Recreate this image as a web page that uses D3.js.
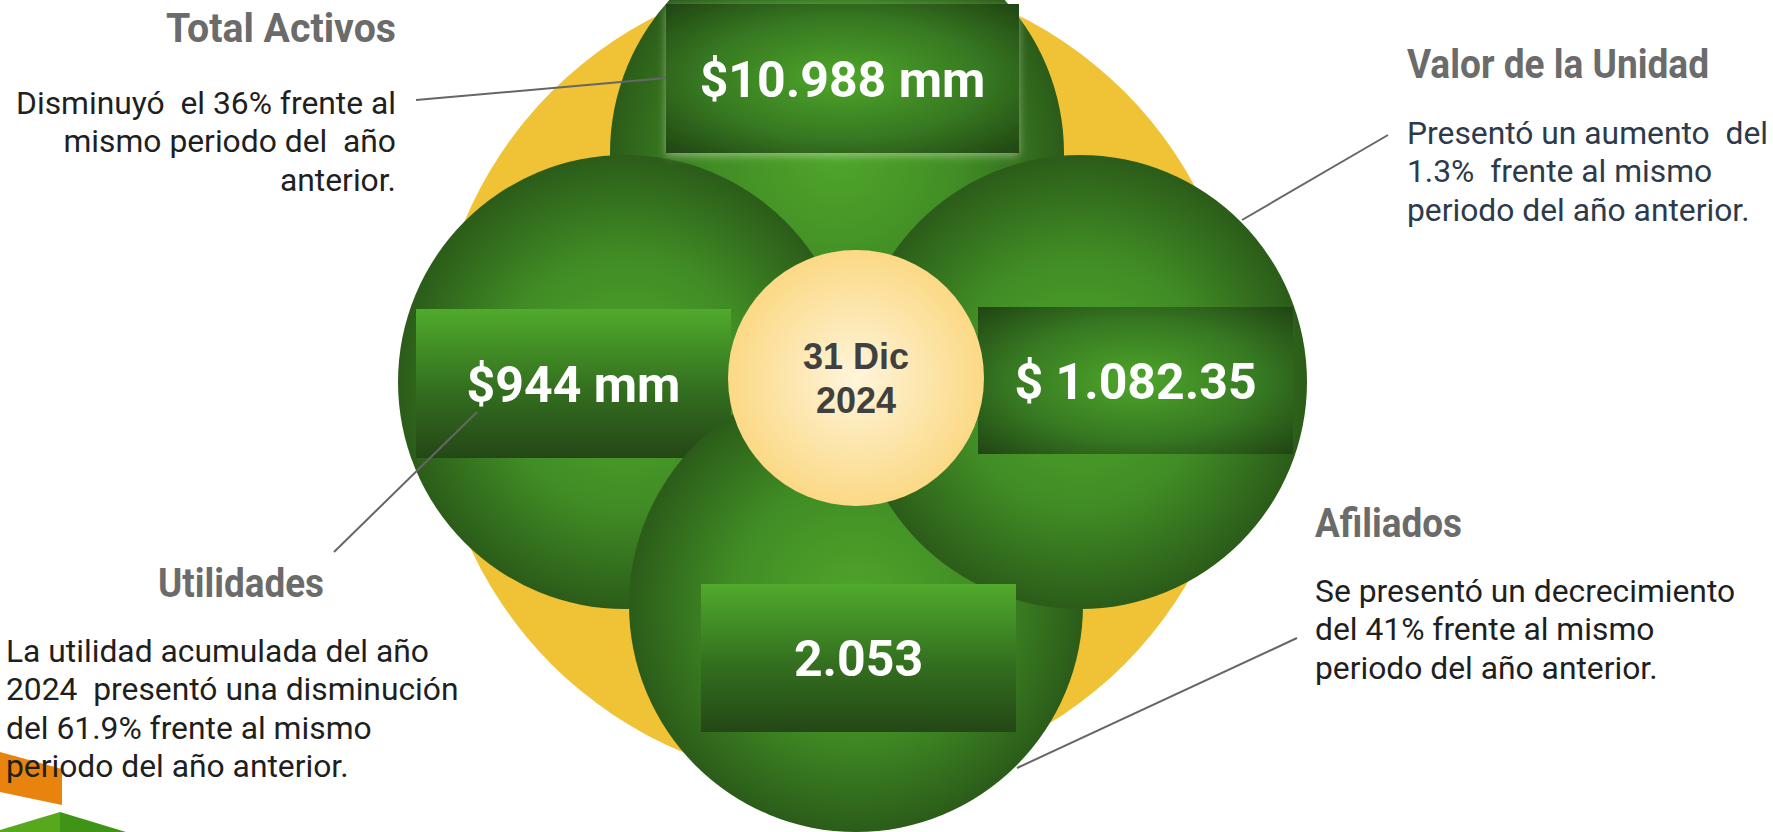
<!DOCTYPE html>
<html lang="es">
<head>
<meta charset="utf-8">
<title>Resumen al 31 Dic 2024</title>
<script src="https://cdn.jsdelivr.net/npm/d3@7"></script>
<style>
  html, body { margin: 0; padding: 0; background: #fff; }
  svg { display: block; }
  text { white-space: pre; }
</style>
</head>
<body>
<svg id="chart"></svg>
<script>
// indicators, in the order: top, right, left, bottom
var categories = ["Total Activos", "Valor de la Unidad", "Utilidades", "Afiliados"];
var values = ["$10.988 mm", "$ 1.082.35", "$944 mm", "2.053"];
var descriptions = [
  ["Disminuyó  el 36% frente al", "mismo periodo del  año", "anterior."],
  ["Presentó un aumento  del", "1.3%  frente al mismo", "periodo del año anterior."],
  ["La utilidad acumulada del año", "2024  presentó una disminución", "del 61.9% frente al mismo", "periodo del año anterior."],
  ["Se presentó un decrecimiento", "del 41% frente al mismo", "periodo del año anterior."]
];
var dateLabel = ["31 Dic", "2024"];

var width = 1773, height = 832;
var circleR = 227;

/* Layout scales (category -> position) */
var circleX = d3.scaleOrdinal().domain(categories).range([837, 1080, 625, 856]);
var circleY = d3.scaleOrdinal().domain(categories).range([153, 382, 382, 605]);
var boxX = d3.scaleOrdinal().domain(categories).range([666, 978, 416, 701]);
var boxY = d3.scaleOrdinal().domain(categories).range([4, 307, 309, 584]);
var boxW = d3.scaleOrdinal().domain(categories).range([353, 315, 315, 315]);
var boxH = d3.scaleOrdinal().domain(categories).range([149, 147, 149, 148]);
var boxFill = d3.scaleOrdinal().domain(categories)
  .range(["url(#boxRadial)", "url(#boxRadial)", "url(#boxLinear)", "url(#boxLinear)"]);
var titleX = d3.scaleOrdinal().domain(categories).range([396, 1407, 158, 1315]);
var titleY = d3.scaleOrdinal().domain(categories).range([42, 78, 597, 537]);
var titleW = d3.scaleOrdinal().domain(categories).range([230, 302, 166, 147]);
var descX = d3.scaleOrdinal().domain(categories).range([396, 1407, 6, 1315]);
var descY = d3.scaleOrdinal().domain(categories).range([114, 144, 662, 602]);
var anchor = d3.scaleOrdinal().domain(categories).range(["end", "start", "start", "start"]);
var descColor = d3.scaleOrdinal().domain(categories).range(["#1f1f1f", "#2d3a4c", "#1f1f1f", "#1f1f1f"]);
var leader = d3.scaleOrdinal().domain(categories).range([
  [[416, 100], [666, 78]],
  [[1242, 220], [1388, 135]],
  [[477, 412], [334, 552]],
  [[1017, 768], [1297, 638]]
]);
var lineHeight = 38.4;

var svg = d3.select("#chart")
  .attr("width", width)
  .attr("height", height)
  .attr("viewBox", [0, 0, width, height]);

/* Gradients */
var defs = svg.append("defs");

var g1 = defs.append("radialGradient").attr("id", "circleGrad")
  .attr("cx", "50%").attr("cy", "50%").attr("r", "50%");
g1.append("stop").attr("offset", "0%").attr("stop-color", "#4fa62b");
g1.append("stop").attr("offset", "55%").attr("stop-color", "#418d25");
g1.append("stop").attr("offset", "100%").attr("stop-color", "#2b5c19");

var g2 = defs.append("radialGradient").attr("id", "boxRadial")
  .attr("cx", "50%").attr("cy", "50%").attr("r", "72%");
g2.append("stop").attr("offset", "0%").attr("stop-color", "#4ea62a");
g2.append("stop").attr("offset", "55%").attr("stop-color", "#377922");
g2.append("stop").attr("offset", "100%").attr("stop-color", "#1f4212");

var g3 = defs.append("linearGradient").attr("id", "boxLinear")
  .attr("x1", 0).attr("y1", 0).attr("x2", 0).attr("y2", 1);
g3.append("stop").attr("offset", "0%").attr("stop-color", "#50aa2c");
g3.append("stop").attr("offset", "55%").attr("stop-color", "#336e1f");
g3.append("stop").attr("offset", "100%").attr("stop-color", "#244716");

var g4 = defs.append("radialGradient").attr("id", "creamGrad")
  .attr("cx", "50%").attr("cy", "50%").attr("r", "50%");
g4.append("stop").attr("offset", "0%").attr("stop-color", "#fff5db");
g4.append("stop").attr("offset", "100%").attr("stop-color", "#fbd985");

var glow = defs.append("filter").attr("id", "glow")
  .attr("x", "-5%").attr("y", "-5%").attr("width", "110%").attr("height", "115%");
glow.append("feDropShadow").attr("dx", 0).attr("dy", 3).attr("stdDeviation", 4)
  .attr("flood-color", "#e8f0d8").attr("flood-opacity", 0.45);

/* Decorative corner shapes */
svg.append("polygon").attr("points", "0,752 62,769 62,805 0,792").attr("fill", "#e8830d");
svg.append("polygon").attr("points", "0,830 60,812 60,832 0,832").attr("fill", "#56a81c");
svg.append("polygon").attr("points", "60,812 126,832 60,832").attr("fill", "#3f9417");

/* Yellow background disc */
svg.append("circle").attr("cx", 838).attr("cy", 378).attr("r", 405).attr("fill", "#f0c235");

/* Draw order: top circle, left circle + box, bottom circle, right circle, remaining boxes */
function drawCircle(cat) {
  svg.append("circle")
    .attr("cx", circleX(cat)).attr("cy", circleY(cat)).attr("r", circleR)
    .attr("fill", "url(#circleGrad)");
}
function drawBox(cat) {
  svg.append("rect")
    .attr("x", boxX(cat)).attr("y", boxY(cat))
    .attr("width", boxW(cat)).attr("height", boxH(cat))
    .attr("fill", boxFill(cat))
    .attr("filter", cat === categories[0] ? "url(#glow)" : null);
}
drawCircle(categories[0]);
drawCircle(categories[2]);
drawBox(categories[2]);
drawCircle(categories[3]);
drawCircle(categories[1]);
drawBox(categories[0]);
drawBox(categories[1]);
drawBox(categories[3]);

/* Centre date disc */
svg.append("circle").attr("cx", 856).attr("cy", 378).attr("r", 128).attr("fill", "url(#creamGrad)");
svg.append("g").selectAll("text")
  .data(dateLabel).enter()
  .append("text")
  .attr("x", 856)
  .attr("y", (d, i) => 369 + i * 44)
  .attr("text-anchor", "middle")
  .attr("font-family", "'Liberation Sans', Arial, sans-serif")
  .attr("font-weight", "bold")
  .attr("font-size", 36)
  .attr("fill", "#404040")
  .text(d => d);

/* Values */
svg.append("g").selectAll("text")
  .data(categories).enter()
  .append("text")
  .attr("x", d => boxX(d) + boxW(d) / 2)
  .attr("y", d => boxY(d) + boxH(d) / 2 + 18)
  .attr("text-anchor", "middle")
  .attr("font-family", "Roboto, sans-serif")
  .attr("font-weight", "bold")
  .attr("font-size", 50)
  .attr("fill", "#fff")
  .text((d, i) => values[i]);

/* Leader lines */
svg.append("g").selectAll("line")
  .data(categories).enter()
  .append("line")
  .attr("x1", d => leader(d)[0][0]).attr("y1", d => leader(d)[0][1])
  .attr("x2", d => leader(d)[1][0]).attr("y2", d => leader(d)[1][1])
  .attr("stroke", "#666")
  .attr("stroke-width", 2);

/* Titles (condensed look: taller glyphs squeezed to the measured width) */
svg.append("g").selectAll("text")
  .data(categories).enter()
  .append("text")
  .attr("x", d => titleX(d))
  .attr("y", d => titleY(d))
  .attr("text-anchor", d => anchor(d))
  .attr("font-family", "Roboto, sans-serif")
  .attr("font-weight", "bold")
  .attr("font-size", 41)
  .attr("textLength", d => titleW(d))
  .attr("lengthAdjust", "spacingAndGlyphs")
  .attr("fill", "#6b6b6b")
  .text(d => d);

/* Descriptions */
var desc = svg.append("g").selectAll("text")
  .data(categories).enter()
  .append("text")
  .attr("text-anchor", d => anchor(d))
  .attr("font-family", "Roboto, sans-serif")
  .attr("font-size", 31.8)
  .attr("fill", d => descColor(d));

desc.selectAll("tspan")
  .data((d, i) => descriptions[i].map(t => ({ cat: d, text: t })))
  .enter()
  .append("tspan")
  .attr("x", d => descX(d.cat))
  .attr("y", (d, j) => descY(d.cat) + j * lineHeight)
  .text(d => d.text);
</script>
</body>
</html>
